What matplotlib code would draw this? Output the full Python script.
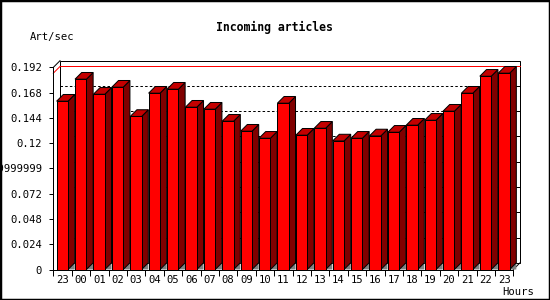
import matplotlib
matplotlib.use('Agg')
import matplotlib.pyplot as plt
from matplotlib.patches import Polygon, Rectangle

# ---- data ----
hours = ['23', '00', '01', '02', '03', '04', '05', '06', '07', '08', '09', '10',
         '11', '12', '13', '14', '15', '16', '17', '18', '19', '20', '21', '22', '23']
rate = [0.1599, 0.1808, 0.1665, 0.1732, 0.1454, 0.1675, 0.1713, 0.1542, 0.1523,
        0.1409, 0.1314, 0.1247, 0.1580, 0.1276, 0.1342, 0.1221, 0.1247, 0.1269,
        0.1304, 0.1371, 0.1418, 0.1504, 0.1675, 0.1836, 0.1865]
yticks = [0, 0.024, 0.048, 0.072, 0.096, 0.12, 0.144, 0.168, 0.192]
ytick_labels = ['0', '0.024', '0.048', '0.072', '0.09599999999999999',
                '0.12', '0.144', '0.168', '0.192']
title = 'Incoming articles'
ylabel = 'Art/sec'
xlabel = 'Hours'

# ---- style ----
W, H = 550, 300
DEPTH = 6.7          # px, 3d offset
LW = 0.72            # 1 px
FRONT = '#ff0000'
TOP = '#c40000'
SIDE = '#800000'
FLOOR = '#808080'
MONO = 'DejaVu Sans Mono'

fig = plt.figure(figsize=(W / 100, H / 100), dpi=100)
fig.patch.set_facecolor('white')
ax = fig.add_axes([53.3 / W, 30.5 / H, 460 / W, 202.1 / H])
n = len(rate)
ax.set_xlim(0, n)
ax.set_ylim(0, yticks[-1])
ax.patch.set_visible(False)

# data units per pixel for the depth offset
p0 = ax.transData.transform((0, 0))
p1 = ax.transData.transform((1, 0.1))
dx = DEPTH / (p1[0] - p0[0])
dy = DEPTH / ((p1[1] - p0[1]) / 0.1)
ymax = yticks[-1]

# back plane frame
ax.add_patch(Rectangle((dx, dy), n, ymax, fill=False, ec='black', lw=LW,
                       clip_on=False, zorder=1))
# left wall top diagonal and floor diagonals
ax.plot([0, dx], [ymax, ymax + dy], color='black', lw=LW, clip_on=False, zorder=1)
ax.plot([n, n + dx], [0, dy], color='black', lw=LW, clip_on=False, zorder=1)

# gridlines on back plane
for t in yticks[1:-1]:
    ax.plot([dx, n + dx], [t + dy, t + dy], color='black', lw=LW,
            dashes=(2.5, 2.2), clip_on=False, zorder=1)
    ax.plot([n + dx - 2.5 / (p1[0] - p0[0]), n + dx], [t + dy, t + dy],
            color='black', lw=LW, clip_on=False, zorder=1)

# max line
m = max(rate)
ax.plot([dx, n + dx], [m + dy, m + dy], color='red', lw=LW, clip_on=False, zorder=1.5)
ax.plot([0, dx], [m, m + dy], color='red', lw=LW, clip_on=False, zorder=1.5)

# bars
off, bw = 0.18, 0.62
for i, v in enumerate(rate):
    x0 = i + off
    x1 = x0 + bw
    z = 2 + i * 0.01
    ax.add_patch(Polygon([(x1, 0), (x1 + dx, dy), (x1 + dx, 0)], closed=True,
                         fc=FLOOR, ec='none', clip_on=False, zorder=z))
    ax.add_patch(Polygon([(x1, 0), (x1 + dx, dy), (x1 + dx, v + dy), (x1, v)],
                         closed=True, fc=SIDE, ec='black', lw=LW, clip_on=False, zorder=z))
    ax.add_patch(Polygon([(x0, v), (x1, v), (x1 + dx, v + dy), (x0 + dx, v + dy)],
                         closed=True, fc=TOP, ec='black', lw=LW, clip_on=False, zorder=z))
    ax.add_patch(Rectangle((x0, 0), bw, v, fc=FRONT, ec='black', lw=LW,
                           clip_on=False, zorder=z))

# axes spines / ticks
for s in ['top', 'right']:
    ax.spines[s].set_visible(False)
for s in ['left', 'bottom']:
    ax.spines[s].set_linewidth(LW)
    ax.spines[s].set_zorder(5)
ax.set_yticks(yticks)
ax.set_yticklabels(ytick_labels, fontfamily=MONO, fontsize=7.6)
ax.tick_params(axis='y', direction='out', length=3, width=LW, pad=5)
ax.set_xticks(range(n + 1))
ax.set_xticklabels([])
ax.tick_params(axis='x', which='major', direction='out', length=4, width=LW)
ax.set_xticks([i + 0.5 for i in range(n)], minor=True)
ax.set_xticklabels(hours, minor=True, fontfamily=MONO, fontsize=7.6)
ax.tick_params(axis='x', which='minor', length=0, pad=4)

# texts
fig.text(274 / W, 1 - 27 / H, title, ha='center', va='center',
         fontfamily=MONO, fontweight='bold', fontsize=8.3)
fig.text(30 / W, 1 - 37 / H, ylabel, ha='left', va='center',
         fontfamily=MONO, fontsize=7.6)
fig.text(534 / W, 1 - 292 / H, xlabel, ha='right', va='center',
         fontfamily=MONO, fontsize=7.6)

# outer border
fig.add_artist(Rectangle((0, 0), 1, 1, transform=fig.transFigure, fill=False,
                         ec='black', lw=2.5))

fig.savefig('out.png', dpi=100)
